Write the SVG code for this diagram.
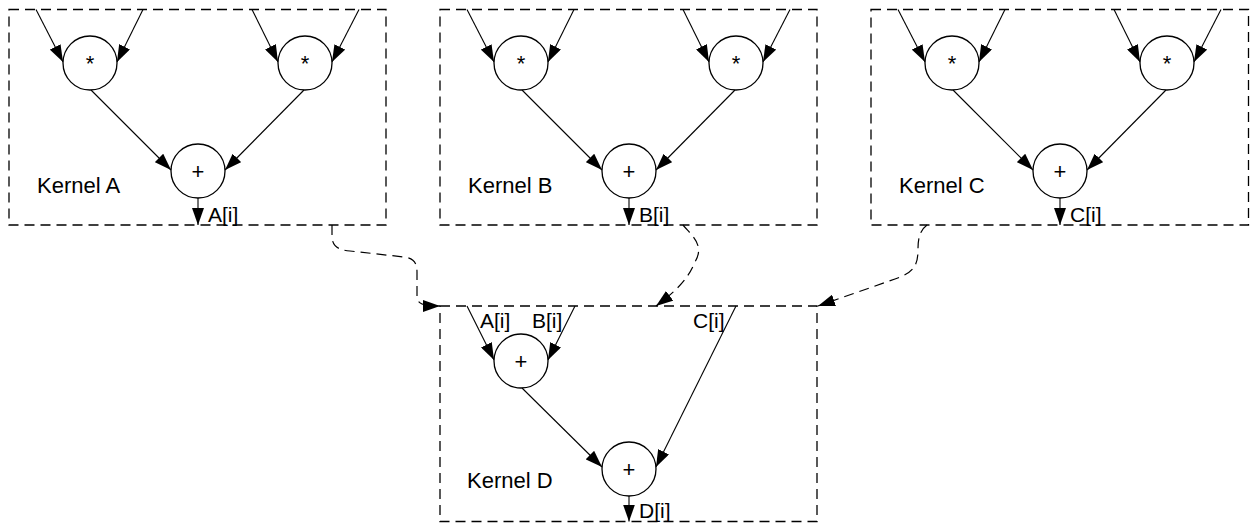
<svg xmlns="http://www.w3.org/2000/svg" width="1252" height="523" viewBox="0 0 1252 523">
<style>
.box{fill:none;stroke:#000;stroke-width:1.3;stroke-dasharray:10 6}
.op{fill:#fff;stroke:#000;stroke-width:1.3}
.e{fill:none;stroke:#000;stroke-width:1.1;marker-end:url(#ah)}
.d{fill:none;stroke:#000;stroke-width:1.2;stroke-dasharray:10 6;marker-end:url(#ah)}
text{font-family:"Liberation Sans",Arial,sans-serif;font-size:21px;fill:#000}
.k{font-size:22px}
.c{text-anchor:middle;font-size:22px}
</style>
<defs>
<marker id="ah" markerUnits="userSpaceOnUse" markerWidth="18" markerHeight="12" refX="17" refY="6" orient="auto"><path d="M0,0 L17,6 L0,12 z" fill="#000"/></marker>
</defs>
<g id="kernelA">
<rect class="box" x="9" y="9.5" width="377" height="215.5"/>
<text class="k" x="37" y="193">Kernel A</text>
<text x="208" y="222">A[i]</text>
</g>
<g id="kernelB">
<rect class="box" x="440" y="9.5" width="377" height="215.5"/>
<text class="k" x="468" y="193">Kernel B</text>
<text x="639" y="222">B[i]</text>
</g>
<g id="kernelC">
<rect class="box" x="871" y="9.5" width="377.5" height="215.5"/>
<text class="k" x="899" y="193">Kernel C</text>
<text x="1070" y="222">C[i]</text>
</g>
<g id="kernelD">
<rect class="box" x="440" y="306" width="377" height="215.5"/>
<text class="k" x="467" y="488">Kernel D</text>
<text x="480" y="328">A[i]</text>
<text x="532" y="328">B[i]</text>
<text x="693" y="328">C[i]</text>
<text x="639" y="518">D[i]</text>
</g>
<g id="connectors">
<line class="e" x1="36" y1="9.5" x2="63" y2="62"/>
<line class="e" x1="143" y1="9.5" x2="117" y2="62"/>
<line class="e" x1="252" y1="9.5" x2="278" y2="62"/>
<line class="e" x1="359" y1="9.5" x2="332" y2="62"/>
<line class="e" x1="91" y1="90" x2="171" y2="170"/>
<line class="e" x1="304" y1="90" x2="225" y2="170"/>
<line class="e" x1="198" y1="198" x2="198" y2="225"/>
<line class="e" x1="467" y1="9.5" x2="494" y2="62"/>
<line class="e" x1="574" y1="9.5" x2="548" y2="62"/>
<line class="e" x1="683" y1="9.5" x2="709" y2="62"/>
<line class="e" x1="790" y1="9.5" x2="763" y2="62"/>
<line class="e" x1="522" y1="90" x2="602" y2="170"/>
<line class="e" x1="735" y1="90" x2="656" y2="170"/>
<line class="e" x1="629" y1="198" x2="629" y2="225"/>
<line class="e" x1="898" y1="9.5" x2="925" y2="62"/>
<line class="e" x1="1005" y1="9.5" x2="979" y2="62"/>
<line class="e" x1="1114" y1="9.5" x2="1140" y2="62"/>
<line class="e" x1="1221" y1="9.5" x2="1194" y2="62"/>
<line class="e" x1="953" y1="90" x2="1033" y2="170"/>
<line class="e" x1="1166" y1="90" x2="1087" y2="170"/>
<line class="e" x1="1060" y1="198" x2="1060" y2="225"/>
<line class="e" x1="467" y1="306" x2="494" y2="360"/>
<line class="e" x1="575" y1="306" x2="548" y2="360"/>
<line class="e" x1="736" y1="306" x2="656" y2="467"/>
<line class="e" x1="522" y1="388" x2="602" y2="467"/>
<line class="e" x1="629" y1="496" x2="629" y2="521.5"/>
<path class="d" d="M332,225 L332,236 C332,246 338,250 350,251 L404,257 C413,258 417,262 417,272 L417,296 C417,303 421,306 440,306"/>
<path class="d" d="M683,225 C692,236 705,245 695,262 C688,278 680,288 656,306"/>
<path class="d" d="M927,225 C919,231 918,240 918,250 C918,267 912,273 895,279 L818,306"/>
</g>
<g id="nodes">
<g id="mA1"><circle class="op" cx="90" cy="63" r="27"/><text class="c" x="90" y="71">*</text></g>
<g id="mA2"><circle class="op" cx="305" cy="63" r="27"/><text class="c" x="305" y="71">*</text></g>
<g id="pA"><circle class="op" cx="198" cy="171" r="27"/><text class="c" x="198" y="179">+</text></g>
<g id="mB1"><circle class="op" cx="521" cy="63" r="27"/><text class="c" x="521" y="71">*</text></g>
<g id="mB2"><circle class="op" cx="736" cy="63" r="27"/><text class="c" x="736" y="71">*</text></g>
<g id="pB"><circle class="op" cx="629" cy="171" r="27"/><text class="c" x="629" y="179">+</text></g>
<g id="mC1"><circle class="op" cx="952" cy="63" r="27"/><text class="c" x="952" y="71">*</text></g>
<g id="mC2"><circle class="op" cx="1167" cy="63" r="27"/><text class="c" x="1167" y="71">*</text></g>
<g id="pC"><circle class="op" cx="1060" cy="171" r="27"/><text class="c" x="1060" y="179">+</text></g>
<g id="pD1"><circle class="op" cx="521" cy="361" r="27"/><text class="c" x="521" y="369">+</text></g>
<g id="pD2"><circle class="op" cx="629" cy="469" r="27"/><text class="c" x="629" y="477">+</text></g>
</g>
</svg>
